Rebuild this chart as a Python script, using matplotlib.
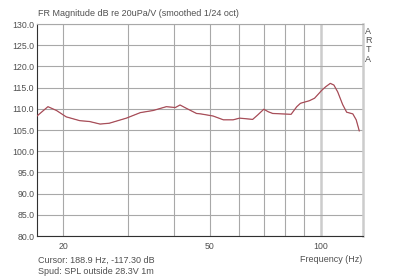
"""
ARTA-style frequency response plot
Run: python plot.py
"""
import matplotlib
matplotlib.use("Agg")
import matplotlib.pyplot as plt
import matplotlib.ticker as mtick

plt.rcParams["font.family"] = ["Liberation Sans", "DejaVu Sans"]

# ── Data ─────────────────────────────────────────────────────────────────────
freq_hz = [17.0, 18.2, 19.2, 20.4, 22.2, 23.6, 25.2, 26.7, 29.7, 32.4, 35.1,
           38.1, 40.3, 41.5, 43.2, 46.0, 47.2, 51.0, 54.4, 57.8, 60.2, 65.3,
           67.3, 70.0, 72.0, 74.0, 83.0, 86.0, 88.0, 89.6, 93.0, 96.1, 100.6,
           103.0, 106.0, 108.4, 111.0, 114.5, 117.4, 122.0, 124.6, 127.0]
spl_db = [108.3, 110.5, 109.6, 108.1, 107.2, 107.0, 106.4, 106.6, 107.8, 109.1, 109.6,
          110.5, 110.3, 110.9, 110.1, 108.9, 108.8, 108.3, 107.4, 107.4, 107.8, 107.5,
          108.5, 109.9, 109.3, 108.9, 108.7, 110.5, 111.3, 111.5, 111.9, 112.5, 114.4,
          115.2, 116.0, 115.6, 114.0, 111.0, 109.2, 108.8, 107.4, 104.8]

y_ticks = [80, 85, 90, 95, 100, 105, 110, 115, 120, 125, 130]
x_grid = [20, 30, 40, 50, 60, 70, 80, 90]
x_labels = [20, 50, 100]

title = "FR Magnitude dB re 20uPa/V (smoothed 1/24 oct)"
cursor_txt = "Cursor: 188.9 Hz, -117.30 dB"
info_txt = "Spud: SPL outside 28.3V 1m"

# ── Plot ─────────────────────────────────────────────────────────────────────
fig = plt.figure(figsize=(4.0, 2.79), dpi=100)
ax = fig.add_axes([37/400, 1 - 236/279, (363 - 37)/400, (236 - 24)/279])
ax.set_xscale("log")
ax.set_xlim(17, 130)
ax.set_ylim(80, 130)

grid_c = "#a8a8a8"
for f in x_grid:
    ax.axvline(f, color=grid_c, lw=0.8, zorder=1)
ax.axvline(100, color="#cccccc", lw=1.8, zorder=1)
for y in y_ticks:
    ax.axhline(y, color=grid_c, lw=0.8, zorder=1)

ax.plot(freq_hz, spl_db, color="#b85a66", lw=0.9, zorder=3)
ax.plot(freq_hz, spl_db, color="#6a2a30", lw=0.4, alpha=0.4, zorder=4)

ax.set_yticks(y_ticks)
ax.yaxis.set_major_formatter(mtick.FormatStrFormatter("%.1f"))
ax.set_xticks(x_labels)
ax.xaxis.set_minor_locator(mtick.NullLocator())
ax.xaxis.set_major_formatter(mtick.FuncFormatter(lambda v, p: f"{v:g}"))
ax.tick_params(axis="both", length=0, labelsize=6.3, colors="#505050", pad=2)
ax.tick_params(axis="x", pad=4)

for s in ("left", "bottom"):
    ax.spines[s].set_color("#303030")
    ax.spines[s].set_linewidth(0.8)
ax.spines["top"].set_color(grid_c)
ax.spines["top"].set_linewidth(0.8)
ax.spines["right"].set_color("#cccccc")
ax.spines["right"].set_linewidth(1.8)

txt_c = "#505050"
fig.text(38/400, 1 - 13/279, title, fontsize=6.5, color=txt_c, va="center")
fig.text(38/400, 1 - 260/279, cursor_txt, fontsize=6.5, color=txt_c, va="center")
fig.text(38/400, 1 - 272/279, info_txt, fontsize=6.5, color=txt_c, va="center")
fig.text(362/400, 1 - 260/279, "Frequency (Hz)", fontsize=6.5, color=txt_c,
         va="center", ha="right")
for i, ch in enumerate("ARTA"):
    fig.text(368/400, 1 - (31 + i*9.5)/279, ch, fontsize=6.5, color=txt_c,
             va="center", ha="center")

plt.savefig("out.png", dpi=100)
plt.close()
